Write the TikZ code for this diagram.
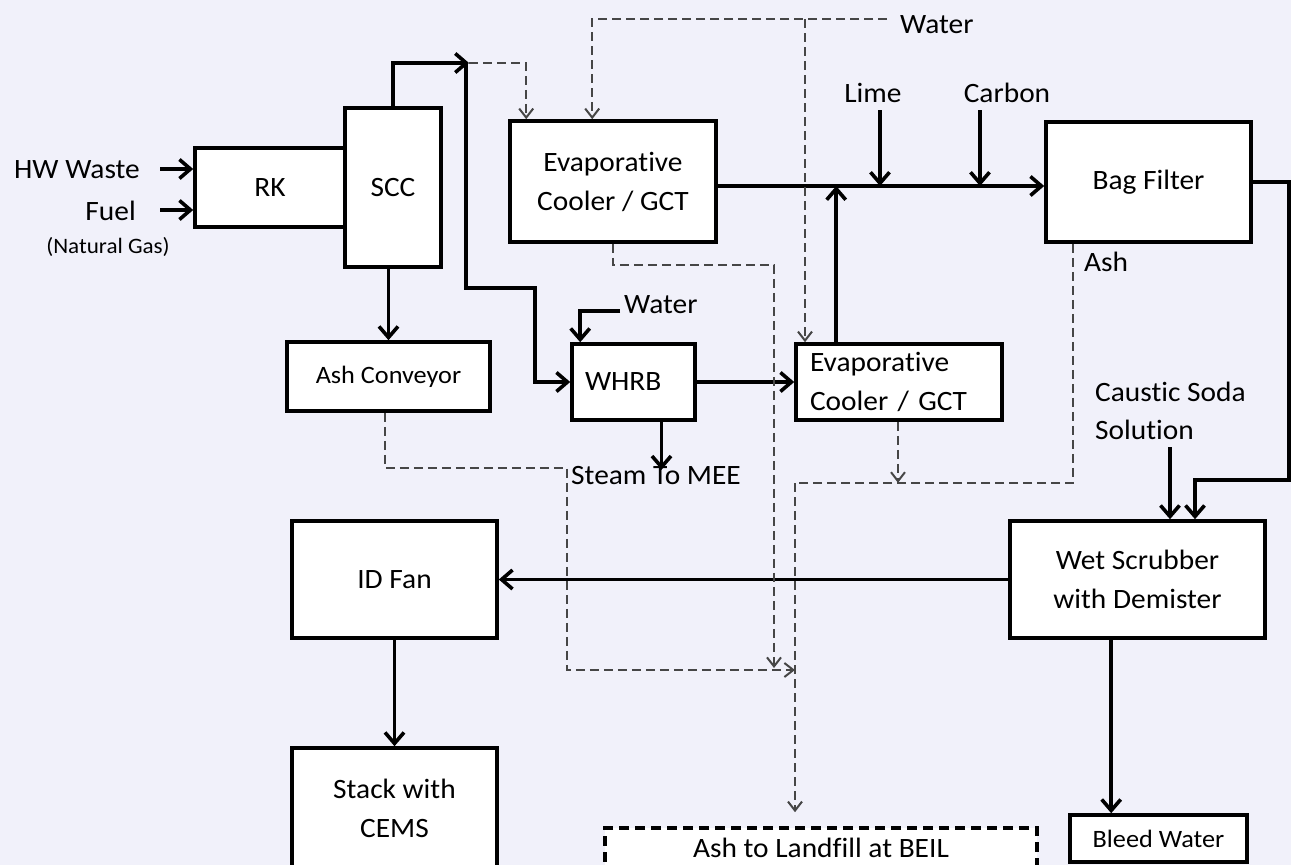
\documentclass[tikz,border=0pt]{standalone}
\usepackage{fontspec}
\setmainfont{Carlito}[FakeStretch=1.05, Ligatures={NoCommon,NoContextual}]
\usetikzlibrary{arrows.meta}
\definecolor{bgcol}{RGB}{241,241,250}
\definecolor{dgray}{RGB}{70,70,70}
\newcommand\fsmain{\fontsize{28}{39}\selectfont}
\newcommand\fssmall{\fontsize{25}{30}\selectfont}
\newcommand\fstiny{\fontsize{22}{25}\selectfont}
\begin{document}
\begin{tikzpicture}[x=1pt,y=-1pt,
  box/.style={draw, line width=3.6pt, fill=white, inner sep=0pt, align=center, font=\fsmain},
  ln/.style={line width=3.6pt},
  arr/.style={line width=3.6pt, -{Straight Barb[length=11pt,width=19pt]}},
  dln/.style={line width=2pt, draw=dgray, dash pattern=on 9pt off 5pt},
  darr/.style={dln, -{Straight Barb[length=9pt,width=14pt]}},
  lbl/.style={inner sep=0pt, font=\fsmain}]
\fill[bgcol] (0,0) rectangle (1291,865);
\useasboundingbox (0,0) rectangle (1291,865);

% boxes
\node[box, minimum width=150pt, minimum height=79pt] (RK) at (270,187.5) {RK};
\node[box, minimum width=96pt, minimum height=159pt] (SCC) at (393,187.5) {SCC};
\node[box, minimum width=206pt, minimum height=121pt] (EV1) at (613,181.5) {Evaporative\\Cooler / GCT};
\node[box, minimum width=205pt, minimum height=120pt] (BAG) at (1148.5,182) {Bag Filter};
\node[box, minimum width=203pt, minimum height=69pt, font=\fssmall] (ASHC) at (388.5,376.5) {Ash Conveyor};
\node[box, minimum width=123pt, minimum height=76pt, align=left, text width=97pt] (WHRB) at (633.5,382) {WHRB};
\node[box, minimum width=206pt, minimum height=76pt, align=left, text width=178pt] (EV2) at (899,382) {Evaporative\\Cooler / GCT};
\node[box, minimum width=255pt, minimum height=117pt] (WET) at (1137.5,579.5) {Wet Scrubber\\with Demister};
\node[box, minimum width=205pt, minimum height=117pt] (IDF) at (394.5,579.5) {ID Fan};
\node[box, minimum width=205pt, minimum height=120pt] (STK) at (394.5,808) {Stack with\\CEMS};
\node[box, minimum width=432pt, minimum height=40pt, dash pattern=on 10pt off 6pt] (LAND) at (821,848) {Ash to Landfill at BEIL};
\node[box, minimum width=177pt, minimum height=47pt, font=\fssmall] (BLEED) at (1158.5,838.5) {Bleed Water};

% labels
\node[lbl, anchor=east] (hwt) at (140,170) {HW Waste};
\node[lbl, anchor=east] (fuelt) at (136,211) {Fuel};
\node[lbl, font=\fstiny] (ngt) at (108,247) {(Natural Gas)};
\node[lbl, anchor=west] (watert) at (900,25) {Water};
\node[lbl, anchor=west] (water2t) at (624,305) {Water};
\node[lbl] (limet) at (873,93) {Lime};
\node[lbl] (carbt) at (1007,93) {Carbon};
\node[lbl] (asht) at (1106,262) {Ash};
\node[lbl, anchor=west] (steamt) at (571,476) {Steam To MEE};
\node[lbl, anchor=west, align=left, font=\fontsize{28}{38}\selectfont] (caust) at (1095,411) {Caustic Soda\\Solution};

% coordinates
\coordinate (hw) at (160,169);
\coordinate (fu) at (160,210);
\coordinate (j1) at (466,63);
\coordinate (k2) at (535,382);
\coordinate (m1) at (716,186);
\coordinate (lime) at (880,110);
\coordinate (carb) at (980,110);
\coordinate (wt) at (887,19);
\coordinate (wb) at (805,19);
\coordinate (ww) at (620,311);
\coordinate (r1) at (1289,480);
\coordinate (r2) at (1195,480);
\coordinate (cs) at (1170,447);
\coordinate (d1) at (1073,483);
\coordinate (d2) at (795,483);
\coordinate (e1) at (774,265);
\coordinate (a1) at (385,468);
\coordinate (a2) at (567,468);
\coordinate (a3) at (567,670);
\coordinate (a4) at (795,670);

% solid connectors
\draw[arr] (hw) -- (hw -| RK.west);
\draw[arr] (fu) -- (fu -| RK.west);
\draw[arr] (SCC.north) |- ([xshift=3pt]j1);
\draw[arr] (j1) -- ++(0,225) -| (k2) -- (WHRB.west);
\draw[arr] (SCC.south -| ASHC.north) -- (ASHC.north);
\draw[arr] (m1) -- (m1 -| BAG.west);
\draw[arr] (lime) -- (lime |- m1);
\draw[arr] (carb) -- (carb |- m1);
\draw[arr] ([xshift=42pt]EV2.north west) -- ([xshift=42pt]EV2.north west |- m1);
\draw[arr] (ww) -| ([xshift=10pt]WHRB.north west);
\draw[arr] (WHRB.east) -- (EV2.west);
\draw[arr] ([xshift=28pt]WHRB.south) -- ++(0,48);
\draw[arr] (BAG.east) -| (r1) -- (r2) -- (r2 |- WET.north);
\draw[arr] (cs) -- (cs |- WET.north);
\draw[arr] (WET.west) -- (IDF.east);
\draw[arr] (IDF.south) -- (STK.north);
\draw[arr] ([xshift=103pt]WET.south west) -- ([xshift=103pt]WET.south west |- BLEED.north);

% dashed connectors
\draw[darr] ([xshift=3pt]j1) -| ([xshift=18pt]EV1.north west);
\draw[darr] (wt) -| ([xshift=84pt]EV1.north west);
\draw[darr] (wb) -- (wb |- EV2.north);
\draw[darr] ([xshift=-1pt]EV2.south) -- ++(0,61);
\draw[darr] (EV1.south) |- (e1) -- ++(0,403);
\draw[darr] (ASHC.south -| a1) -- (a1) -- (a2) -- (a3) -- (a4);
\draw[dln] (BAG.south -| d1) -- (d1) -- (d2);
\draw[darr, shorten >=14pt] (d2) -- (d2 |- LAND.north);
\end{tikzpicture}
\end{document}
